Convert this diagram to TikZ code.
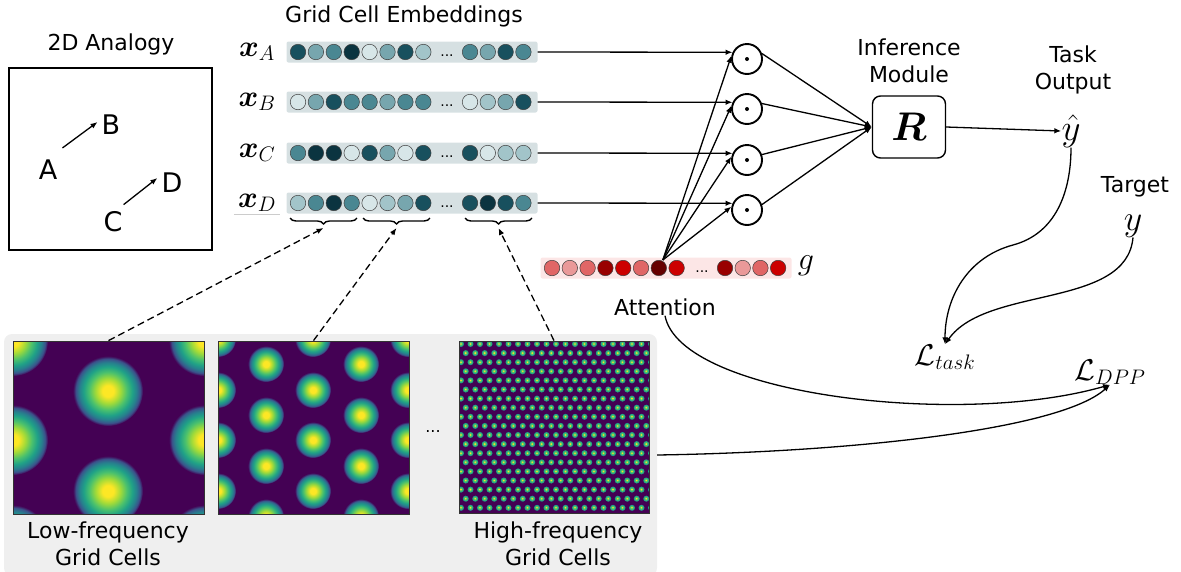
\RequirePackage{fix-cm}
\documentclass[tikz,border=0pt]{standalone}
\usepackage{amsmath}
\usepackage{amssymb}
\usepackage{fontspec}
\setmainfont{DejaVu Sans}
\usetikzlibrary{calc,positioning,arrows.meta,decorations.pathreplacing}

\definecolor{tA}{HTML}{D7E6E8}
\definecolor{tB}{HTML}{A2C4C9}
\definecolor{tC}{HTML}{77A6AE}
\definecolor{tD}{HTML}{4A8792}
\definecolor{tE}{HTML}{18505E}
\definecolor{tF}{HTML}{0B3440}
\definecolor{embbg}{HTML}{D6E0E2}
\definecolor{attbg}{HTML}{FCE6E6}
\definecolor{rA}{HTML}{E06666}
\definecolor{rB}{HTML}{EA9999}
\definecolor{rC}{HTML}{990000}
\definecolor{rD}{HTML}{CC0000}
\definecolor{rE}{HTML}{660000}
\definecolor{panelgray}{HTML}{EFEFEF}
\definecolor{vY}{HTML}{FDE725}
\definecolor{vYG}{HTML}{A0DA39}
\definecolor{vG}{HTML}{4AC16D}
\definecolor{vT}{HTML}{1FA187}
\definecolor{vTB}{HTML}{277F8E}
\definecolor{vB}{HTML}{3B528B}
\definecolor{vP}{HTML}{440154}

\pgfdeclareradialshading{gridblob}{\pgfpoint{0bp}{0bp}}{color(0bp)=(vY); color(4bp)=(vY); color(9bp)=(vYG); color(13.5bp)=(vG); color(17.5bp)=(vT); color(20.5bp)=(vTB); color(23bp)=(vB); color(25bp)=(vP); color(50bp)=(vP)}

\tikzset{
  lbl/.style={font=\fontsize{22}{27}\selectfont, align=center, inner sep=0pt},
  arr/.style={-{Latex[length=7pt,width=5.5pt]}, line width=1.3pt},
  darr/.style={arr, dash pattern=on 7pt off 4pt},
  cell/.style={circle, draw=black!75, line width=0.5pt, minimum size=15.5pt, inner sep=0pt},
  embbar/.style={rectangle, rounded corners=2pt, fill=embbg, minimum width=251pt, minimum height=21pt, inner sep=0pt},
  attbar/.style={embbar, fill=attbg},
  prod/.style={circle, draw, line width=1.9pt, minimum size=30pt, inner sep=0pt},
  rbox/.style={draw, rounded corners=8pt, line width=1.4pt, minimum width=73pt, minimum height=62pt, inner sep=0pt, font=\fontsize{40}{40}\selectfont},
  hmframe/.style={rectangle, draw=black!80, line width=0.8pt, inner sep=0pt},
  panel/.style={rectangle, rounded corners=8pt, fill=panelgray, minimum width=653pt, minimum height=242pt, inner sep=0pt},
  brc/.style={decorate, decoration={brace, mirror, amplitude=6pt}, line width=1.4pt},
}

\begin{document}
\begin{tikzpicture}[x=1pt, y=-1pt]
        \useasboundingbox (0,0) rectangle (1181,571);

        % 二维类比
        \node[lbl] (anatitle) at (111,44) {2D Analogy};
        \node[draw, line width=1.3pt, minimum width=203pt, minimum height=182pt] (ana) at (110.5,159) {};
        \node[lbl, font=\fontsize{27}{27}\selectfont] (nA) at (48,170) {A};
        \node[lbl, font=\fontsize{27}{27}\selectfont] (nB) at (111,125) {B};
        \node[lbl, font=\fontsize{27}{27}\selectfont] (nC) at (113,222) {C};
        \node[lbl, font=\fontsize{27}{27}\selectfont] (nD) at (172,183) {D};
        \draw[arr] ([xshift=5pt,yshift=12pt]nA.north east) -- ([xshift=-4pt,yshift=3pt]nB.west);
        \draw[arr] ([xshift=1pt,yshift=7pt]nC.north east) -- ([xshift=-4pt,yshift=5pt]nD.west);

        % 网格细胞嵌入
        \node[lbl] (embtitle) at (404,16) {Grid Cell Embeddings};
        \foreach \rw/\yy/\cols in {A/52/{tE,tC,tD,tF,tA,tC,tE,tB,tD,tC,tE,tD},
                                   B/102/{tA,tC,tE,tD,tD,tC,tD,tD,tA,tB,tC,tE},
                                   C/153/{tD,tF,tF,tA,tE,tC,tA,tE,tE,tA,tB,tB},
                                   D/203/{tB,tD,tF,tD,tA,tB,tC,tE,tE,tF,tE,tD}}{
          \node[embbar] (bar\rw) at (412,\yy) {};
          \node[lbl, font=\fontsize{30}{30}\selectfont] (lab\rw) at (257,\yy) {$\boldsymbol{x}_{\rw}$};
          \foreach \c [count=\i] in \cols {
            \pgfmathsetmacro{\cx}{\i<9 ? 298+(\i-1)*17.9 : 470+(\i-9)*17.8}
            \node[cell, fill=\c] (e\rw\i) at (\cx,\yy) {};
          }
          \node[lbl, font=\fontsize{14}{14}\selectfont] (dots\rw) at (447,\yy+4) {...};
        }
        \draw[gray!40, line width=0.6pt] ([xshift=-4pt,yshift=-2pt]labD.south west) -- ([xshift=4pt,yshift=-2pt]labD.south east);

        % 大括号
        \draw[brc] (290,218) -- (357,218);
        \draw[brc] (363,218) -- (430,218);
        \draw[brc] (465,218) -- (532,218);
        \coordinate (brA) at (323.5,228);
        \coordinate (brB) at (396.5,228);
        \coordinate (brC) at (498.5,228);

        % 注意力
        \node[attbar] (att) at (666,268) {};
        \foreach \c [count=\i] in {rA,rB,rA,rC,rD,rA,rE,rD,rC,rB,rA,rD} {
          \pgfmathsetmacro{\cx}{\i<9 ? 552+(\i-1)*17.8 : 725+(\i-9)*17.7}
          \node[cell, fill=\c] (a\i) at (\cx,268) {};
        }
        \node[lbl, font=\fontsize{14}{14}\selectfont] (attdots) at (702,272) {...};
        \node[lbl, font=\fontsize{32}{32}\selectfont] (g) at (806,266) {$g$};
        \node[lbl] (attn) at (665,307) {Attention};
        \coordinate (attsrc) at ([xshift=4pt]a7.north);

        % 逐元素乘积
        \foreach \rw/\yy in {A/59,B/109,C/160,D/210}{
          \node[prod] (p\rw) at (747,\yy) {};
          \fill (p\rw.center) circle (2);
        }

        % 推理模块
        \node[lbl] (infer) at (909,61) {Inference\\Module};
        \node[rbox] (R) at (909,127) {$\boldsymbol{R}$};
        \foreach \rw in {A,B,C,D}{
          \draw[arr] (bar\rw.east) -- (p\rw.155);
          \draw[arr] (attsrc) -- (p\rw.168);
          \draw[arr] (p\rw.20) -- (R.west);
        }

        % 输出与损失
        \node[lbl] (taskout) at (1073,70) {Task\\Output};
        \node[lbl, font=\fontsize{37}{37}\selectfont] (yhat) at (1071,131) {$\hat{y}$};
        \draw[arr] (R.east) -- (yhat.west);
        \node[lbl] (tgtlbl) at (1135,187) {Target};
        \node[lbl, font=\fontsize{36}{36}\selectfont] (ytgt) at (1133,226) {$y$};
        \node[lbl, font=\fontsize{30}{30}\selectfont] (ltask) at (945,357) {$\mathcal{L}_{task}$};
        \node[lbl, font=\fontsize{30}{30}\selectfont] (ldpp) at (1110,372) {$\mathcal{L}_{DPP}$};
        \coordinate (bend) at (1013,245);
        \draw[arr] (yhat.south) to[out=-90,in=15] (bend) to[out=195,in=90] (ltask.north);
        \draw[arr] (ytgt.south) to[out=-95,in=55,looseness=0.85] (ltask.north);

        % 网格细胞面板
        \node[panel] (panel) at (330.5,455) {};
        \begin{scope}
          \clip (13,341) rectangle (204,514);
          \fill[vP] (13,341) rectangle (204,514);
          \foreach \bx/\by in {108/291,108/391,108/491,108/591,13/341,13/440,13/540,204/341,204/440,204/540}
            \shade[shading=gridblob] (\bx,\by) circle (35);
        \end{scope}
        \node[hmframe, minimum width=191pt, minimum height=173pt] (hmLow) at (108.5,427.5) {};
        \begin{scope}
          \clip (218,341) rectangle (409,514);
          \fill[vP] (218,341) rectangle (409,514);
          \foreach \bx in {218,313,408} \foreach \by in {288,339,390,440,491,542}
            \shade[shading=gridblob] (\bx,\by) circle (18);
          \foreach \bx in {266,361} \foreach \by in {313,364,415,466,517}
            \shade[shading=gridblob] (\bx,\by) circle (18);
        \end{scope}
        \node[hmframe, minimum width=191pt, minimum height=173pt] (hmMid) at (313.5,427.5) {};
        \begin{scope}
          \clip (459,341) rectangle (649,513);
          \fill[vP] (459,341) rectangle (649,513);
          \foreach \j in {0,...,19} \foreach \i in {0,...,20} {
            \pgfmathsetmacro{\dx}{461+\i*9.5+mod(\j,2)*4.75}
            \pgfmathsetmacro{\dy}{344+\j*9.1}
            \fill[vT] (\dx,\dy) circle (3);
            \fill[vG] (\dx,\dy) circle (2);
            \fill[vY] (\dx,\dy) circle (0.9);
          }
        \end{scope}
        \node[hmframe, minimum width=190pt, minimum height=172pt] (hmHigh) at (554,427) {};
        \node[lbl, font=\fontsize{16}{16}\selectfont] (hmdots) at (433,432) {...};
        \node[lbl] (lowcap) at (108,544) {Low-frequency\\Grid Cells};
        \node[lbl] (highcap) at (558,544) {High-frequency\\Grid Cells};

        % 虚线箭头
        \draw[darr] (hmLow.north) -- (brA);
        \draw[darr] (hmMid.north) -- (brB);
        \draw[darr] (hmHigh.north) -- (brC);

        % DPP 损失
        \draw[arr] (attn.south) .. controls (680,395) and (960,428) .. (ldpp.south);
        \draw[arr] (panel.east) .. controls (850,452) and (1060,430) .. (ldpp.south);
\end{tikzpicture}
\end{document}
